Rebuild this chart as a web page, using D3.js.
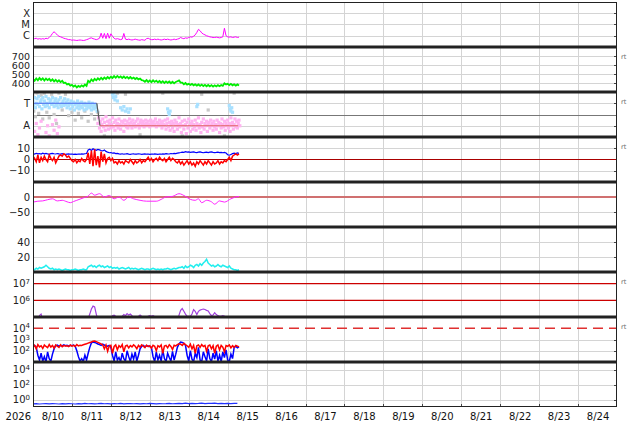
<!DOCTYPE html>
<html><head><meta charset="utf-8">
<script src="https://cdn.jsdelivr.net/npm/d3@7"></script>
<style>body{margin:0;background:#fff}svg{display:block}text{font-family:"DejaVu Sans",sans-serif}</style>
</head><body><svg id="c" width="634" height="424"></svg>
<script>
// ---------- data (hourly from 2026-08-10 00:00 unless noted) ----------
const dayLabels = ["8/10","8/11","8/12","8/13","8/14","8/15","8/16","8/17","8/18","8/19","8/20","8/21","8/22","8/23","8/24"];
// X-ray flux in C-class units (1 = 1e-6 W/m2)
const xray = [0.6,0.55,0.6,0.5,0.55,0.5,0.55,0.5,0.6,0.55,
0.7,1.0,1.6,2.3,1.6,1.2,0.9,0.8,0.7,0.6,
0.55,0.5,0.45,0.45,0.4,0.42,0.4,0.38,0.4,0.42,
0.4,0.38,0.4,0.45,0.5,0.6,0.65,0.55,0.5,0.45,
0.5,0.6,1.7,0.6,1.6,0.55,1.7,0.6,1.5,0.9,
0.6,0.5,0.55,0.5,0.45,0.5,1.6,0.5,0.45,0.5,
0.45,0.42,0.45,0.5,0.45,0.42,0.4,0.45,0.42,0.4,
0.55,0.6,0.5,0.45,0.45,0.5,0.45,0.5,0.45,0.42,
0.45,0.5,0.45,0.5,0.45,0.42,0.45,0.5,0.45,0.5,
0.55,0.7,0.6,0.55,0.65,0.6,0.7,0.8,0.75,0.9,
1.2,2.0,3.7,2.8,1.8,1.4,1.2,1.0,0.9,0.8,
0.75,0.7,0.7,0.75,0.7,0.65,0.7,0.8,4.6,1.0,
0.8,0.75,0.8,0.7,0.75,0.8,0.7,0.75];
const speed = [445,425,450,430,455,435,452,428,450,432,
446,424,440,418,436,414,430,410,424,400,
404,384,390,370,380,360,372,350,368,356,
374,360,382,368,424,410,440,422,446,430,
452,436,458,440,462,446,466,450,470,456,
476,458,478,460,474,456,472,454,468,450,
466,448,460,444,456,440,450,432,428,414,
432,412,428,410,430,412,426,408,422,404,
420,400,418,402,416,398,414,396,412,420,
428,404,404,386,400,382,392,378,390,374,
386,370,384,368,382,366,380,364,378,362,
376,360,374,362,376,364,378,368,396,384,
392,376,390,374,386,370,384,372];
// IMF sector: toward (half-hourly from h0), away (half-hourly from h40), extras [hour,value]
const toward = [1.2,0.8,1.5,0.6,1.0,1.4,0.9,1.6,0.7,1.1,1.3,0.5,1.5,0.9,1.2,0.7,1.6,1.0,0.8,1.4,
0.6,1.1,1.3,0.9,1.5,1.0,0.7,1.2,1.4,0.8,1.1,0.6,1.3,0.9,1.5,0.7,1.0,1.2,0.8,1.4,
0.9,1.1,0.6,1.3,0.8,1.0,0.5,1.2,0.9,0.7,1.1,0.4,0.9,1.0,0.6,1.2,0.8,0.5,1.0,0.7,
1.1,0.6,0.9,0.4,1.0,0.8,0.5,0.9,0.7,1.1,0.6,0.8,0.4,1.0,0.7,0.5,0.9,0.6,0.8,0.3];
const towardExtra = [[49,1.8],[49.5,1.5],[50,1.9],[50.5,1.3],[51,1.6],[52,1.2],[54,0.6],[55,0.4],[56,0.7],[57,0.3],[58,0.5],[59,0.2],[60,0.5],
[83,0.5],[83.5,0.2],[84,0.0],[84.5,0.3],[101,0.7],[101.5,0.9],[121,0.8],[121.5,0.5],[122,0.3],[122.5,0.6],[123,0.2]];
const away = [-0.8,-0.3,-1.2,-0.6,-1.5,-0.9,-0.4,-1.1,-0.7,-1.4,-0.2,-1.0,-0.6,-1.3,-0.8,-0.5,-1.2,-0.9,-0.3,-1.1,
-0.7,-1.4,-0.5,-1.0,-0.8,-1.2,-0.4,-0.9,-1.3,-0.6,-1.0,-0.7,-1.5,-0.5,-0.9,-1.1,-0.6,-1.2,-0.8,-0.4,
-1.0,-0.7,-1.2,-0.5,-0.9,-0.8,-1.1,-0.6,-1.0,-0.4,-0.9,-1.2,-0.7,-0.5,-1.0,-0.8,-0.6,-1.1,-0.9,-0.5,
-0.8,-1.0,-0.6,-0.9,-1.1,-0.5,-0.8,-0.7,-1.0,-0.6,-0.9,-0.4,-1.1,-0.7,-0.8,-1.0,-0.5,-0.9,-0.7,-1.2,
-0.6,-0.9,-1.0,-0.5,-1.3,-0.8,-0.4,-1.1,-0.7,-1.4,-0.9,-0.6,-1.2,-0.8,-1.5,-0.5,-1.0,-0.7,-1.3,-0.9,
-0.3,-1.1,-0.8,-1.6,-0.6,-1.0,-1.3,-0.5,-0.9,-1.7,-0.7,-1.2,-0.4,-1.0,-1.5,-0.8,-0.6,-1.3,-0.9,-1.1,
-0.5,-1.4,-0.8,-1.0,-0.3,-1.2,-0.9,-1.6,-0.7,-1.1,-0.4,-1.3,-0.8,-1.0,-0.6,-1.5,-0.9,-0.7,-1.2,-0.5,
-1.0,-0.8,-1.4,-0.6,-1.1,-0.9,-1.3,-0.5,-1.0,-0.7,-1.6,-0.8,-1.2,-0.4,-0.9,-1.1,-0.6,-1.4,-0.8,-1.0,
-0.5,-1.2,-0.8,-1.5,-0.3,-1.0,-0.7,-1.3,-0.9,-0.4,-1.1,-0.6,-1.2,-0.8,-0.5,-1.0];
const awayEarly = [[1,-1.5],[2,-0.8],[3,-1.8],[4,-1.2],[5,-0.6],[8,-1.6],[9,-1.0],[10,-1.9],[12,-0.9],[13,-1.4],[14,-0.5],[15,-1.7],[16,-1.1]];
const grayPts = [[0,1.8],[0.5,0.3],[1.5,-0.2],[2.5,1.9],[3.5,0.1],[5,1.7],[6,-0.4],[7,1.9],[8.5,0.2],[10,-0.3],[11.5,1.8],[13,0.0],[14.5,-0.8],[16,1.9],[18,0.4],[20,1.8],[22,-0.1],[24,0.2],[26,-0.5],[28,0.1],[30,-0.3],[32,0.3],[34,-0.6],[36,0.0],[38,-0.4],[40,0.2],[44,-1.9],[52,1.9],[57,1.8],[66,-1.8],[80,1.9],[92,-1.9],[104,1.8],[108,0.4],[118,-1.9],[124,1.9]];
const sectorLine = [[0,1],[39.3,1],[41.3,-1],[126.5,-1]];
const bt = [5.2,4.8,5.5,5.0,5.3,4.9,5.6,5.1,5.4,5.0,
4.7,5.2,5.5,5.1,4.9,5.3,5.0,4.8,5.2,4.9,
4.6,4.8,5.0,4.7,4.9,4.5,4.8,4.6,4.9,4.7,
5.0,4.8,5.1,5.3,8.5,9.2,8.0,9.5,8.8,8.2,
9.0,8.6,8.0,7.6,8.4,7.2,6.5,6.0,6.2,5.6,
5.8,5.2,5.5,5.0,4.8,5.1,4.7,4.9,5.2,4.8,
4.6,4.9,5.0,4.7,4.8,5.1,4.9,4.6,4.8,5.0,
4.7,4.9,4.5,4.8,4.7,5.0,4.8,4.6,4.9,4.7,
5.0,4.8,5.2,5.0,4.9,5.3,5.1,5.5,5.3,5.6,
5.9,6.2,6.6,6.4,6.9,6.5,6.7,6.3,6.6,6.8,
6.4,6.2,6.5,6.7,6.3,6.0,6.4,6.6,6.2,6.5,
6.8,6.4,6.1,6.3,6.6,6.2,6.4,6.0,6.3,5.8,
4.2,3.8,4.5,5.2,5.6,5.3,5.8,5.5];
const bz = [3,1,-2,4,-3,2,-1,3,0,-2,
4,1,-1,2,-3,0,3,4,3,5,
4,2,3,1,-1,-2,0,-3,-1,-2,
1,-1,-2,0,6,-4,8,-6,9,-5,
3,-7,7,-2,5,-3,1,2,-1,1,
-3,-2,-4,-1,-3,-2,-4,-1,-2,-3,
0,-2,-4,-1,-3,-2,0,-3,-1,-2,
0,2,-1,1,-2,0,1,-1,2,0,
-1,1,-2,0,2,-1,1,0,-2,-3,
-1,-4,-2,-5,-3,-1,-4,-2,-5,-3,
-6,-2,-4,-1,-3,-5,-2,-4,-1,-3,
-5,-2,-4,-3,-1,-4,-2,-3,-1,-2,
0,2,-1,3,4,5,4,5];
// Dst [hour, nT]
const dst = [[0,-17],[3,-14],[6,-13],[9,-9],[12,-6],[15,-13],[18,-11],[21,-16],[23,-19],[25,-15],[27,-11],[31,-3],[34,3],[36,13],[38,6],[41,11],[44,0],[47,5],[50,-6],[53,0],[56,-11],[59,0],[62,-6],[66,-11],[70,-14],[76,-14],[79,-8],[82,0],[86,2],[90,11],[94,2],[97,-8],[100,-11],[102,-6],[104,-19],[107,-11],[110,-16],[112,-24],[115,-13],[118,-17],[122,-6],[125,0],[127,2]];
const density = [4,3,5,4,6,5,6,7,9,7,
5,4,5,3,4,3,4,3,2,3,
4,3,3,2,3,3,4,3,2,3,
3,4,3,3,7,8,9,7,8,6,
8,9,7,8,6,7,8,6,7,5,
6,5,6,4,5,6,5,4,5,6,
4,5,4,5,4,3,4,5,4,3,
4,4,3,4,5,4,3,4,3,4,
3,4,4,5,4,3,4,5,4,5,
6,6,7,5,8,6,7,9,8,6,
9,10,8,11,9,12,14,17,12,10,
8,9,7,8,10,8,7,9,8,7,
6,8,5,4,3,3,2,3];
const electrons = [5e4,5e4,5e4,5e4,1.2e5,1.5e5,6e4,5e4,5e4,5e4,
5e4,5e4,5e4,5e4,5e4,5e4,5e4,5e4,5e4,5e4,
5e4,5e4,5e4,5e4,5e4,5e4,5e4,5e4,5e4,5e4,
5e4,5e4,5e4,5e4,8e4,1.5e5,3e5,4.5e5,4e5,1.5e5,
7e4,5e4,5e4,5e4,5e4,5e4,5e4,5e4,5e4,1.2e5,
1.3e5,1.1e5,6e4,6e4,6e4,1.1e5,1.4e5,1.2e5,1.6e5,1.3e5,
1.5e5,1.2e5,7e4,7e4,7e4,1.1e5,1.3e5,1.1e5,7e4,7e4,
7e4,1.1e5,1.2e5,1.1e5,1.2e5,1.05e5,5e4,5e4,5e4,5e4,
5e4,5e4,5e4,5e4,5e4,5e4,5e4,5e4,5e4,5e4,
1.3e5,2.5e5,3.2e5,2.2e5,1.5e5,1.1e5,1.1e5,1.1e5,1.5e5,2.8e5,
2.2e5,1.4e5,2.2e5,2.6e5,2.8e5,3e5,2.8e5,2.5e5,2.3e5,1.6e5,
1.2e5,1.3e5,1.8e5,1.4e5,1.2e5,1.1e5,1.1e5,1.2e5,1.1e5,5e4,
5e4,5e4,5e4,5e4,5e4,5e4,5e4,5e4];
const fluxRed = [200,300,150,350,220,280,160,320,240,190,
360,210,300,170,330,250,200,340,230,290,
260,280,230,320,260,300,240,350,270,310,
300,340,380,420,480,540,600,700,740,650,
560,480,400,330,150,320,90,260,300,60,
240,330,120,280,200,350,80,260,310,180,
290,220,330,250,150,300,210,340,260,190,
320,230,280,170,300,250,100,280,220,330,
60,260,300,180,340,240,130,310,270,350,
420,380,300,450,350,280,200,380,150,300,
60,280,330,200,350,240,300,90,270,320,
150,280,60,250,330,120,300,210,80,290,
250,330,180,280,200,300,260,220];
const fluxBlue = [250,300,200,40,15,60,12,30,10,80,
20,12,50,150,280,320,250,300,270,330,
280,310,260,300,280,320,250,100,30,12,
20,11,40,15,60,200,500,600,550,480,
400,350,300,380,320,280,250,300,200,40,
12,80,15,25,11,60,20,12,100,30,
11,50,18,80,12,40,150,250,300,220,
280,260,240,200,30,11,80,15,40,12,
120,20,11,60,25,12,90,15,50,200,
400,600,550,450,300,40,12,100,18,11,
60,25,200,15,11,80,30,12,150,20,
11,60,18,100,12,40,11,80,25,120,
15,11,50,20,200,250,180,220];
// 2-hourly
const bottomFlux = [0.26,0.28,0.25,0.27,0.29,0.26,0.28,0.27,0.25,0.28,0.26,0.29,0.27,0.25,0.28,0.26,
0.30,0.27,0.29,0.26,0.28,0.31,0.27,0.29,0.26,0.28,0.27,0.30,0.26,0.28,0.29,0.27,
0.28,0.26,0.29,0.27,0.30,0.28,0.26,0.29,0.27,0.28,0.31,0.27,0.29,0.30,0.28,0.32,
0.29,0.31,0.28,0.30,0.33,0.29,0.31,0.30,0.32,0.29,0.31,0.28,0.30,0.29,0.31,0.30];

// ---------- layout ----------
const L=33, R=617, TOP=2, PH=45, NP=9;
const t0=new Date(2026,7,10), t1=new Date(2026,7,25);
const x=d3.scaleTime().domain([t0,t1]).range([L,R]);
const at=h=>new Date(+t0+h*36e5);
const svg=d3.select('#c');
const ptop=i=>TOP+PH*i, pbot=i=>TOP+PH*(i+1);
const GRID='#d4d4d4';

const minus=d=>d<0?'\u2212'+(-d):String(d);
const panels=[
 {y:d3.scaleLog().domain([0.1,1000]), ticks:[1,10,100], fmt:d=>({1:'C',10:'M',100:'X'})[d], grid:[1,10,100]},
 {y:d3.scaleLinear().domain([300,800]), ticks:[400,500,600,700], fmt:d=>d, grid:[400,500,600,700], rt:true, fs:9.5},
 {y:d3.scaleLinear().domain([-2,2]), ticks:[1,-1], fmt:d=>d>0?'T':'A', grid:[1,-1], rt:true},
 {y:d3.scaleLinear().domain([-20,20]), ticks:[10,0,-10], fmt:minus, grid:[10,-10], rt:true},
 {y:d3.scaleLinear().domain([-100,50]), ticks:[0,-50], fmt:minus, grid:[-50]},
 {y:d3.scaleLinear().domain([0,60]), ticks:[20,40], fmt:d=>d, grid:[20,40]},
 {y:d3.scaleLog().domain([1e5,Math.pow(10,7.7)]), ticks:[1e6,1e7], sup:true, grid:[], rt:true},
 {y:d3.scaleLog().domain([10,1e5]), ticks:[1e2,1e3,1e4], sup:true, grid:[1e2,1e3], rt:true},
 {y:d3.scaleLog().domain([0.1,1e5]), ticks:[1,1e2,1e4], sup:true, grid:[1,1e2,1e4]}
];
panels.forEach((p,i)=>p.y.range([pbot(i),ptop(i)]));

const defs=svg.append('defs');
panels.forEach((p,i)=>defs.append('clipPath').attr('id','cp'+i).append('rect')
  .attr('x',L).attr('y',ptop(i)).attr('width',R-L).attr('height',PH));

// vertical grid
const dayBounds=d3.range(1,15).map(d=>new Date(2026,7,10+d));
const gGrid=svg.append('g');
gGrid.selectAll('line.v').data(dayBounds).join('line')
  .attr('x1',d=>Math.round(x(d))+0.5).attr('x2',d=>Math.round(x(d))+0.5).attr('y1',TOP).attr('y2',pbot(NP-1))
  .attr('stroke',GRID).attr('stroke-width',1);
// horizontal grid + right ticks
panels.forEach((p,i)=>{
  gGrid.selectAll(null).data(p.grid).join('line')
    .attr('x1',L).attr('x2',R).attr('y1',d=>Math.round(p.y(d))+0.5).attr('y2',d=>Math.round(p.y(d))+0.5)
    .attr('stroke',GRID).attr('stroke-width',1);
  svg.append('g').selectAll(null).data(p.grid).join('line')
    .attr('x1',R-3).attr('x2',R).attr('y1',d=>Math.round(p.y(d))+0.5).attr('y2',d=>Math.round(p.y(d))+0.5)
    .attr('stroke','#444');
});

function layer(i){return svg.append('g').attr('clip-path',`url(#cp${i})`);}
const lineH=(y,step=1)=>d3.line().x((d,k)=>x(at(k*step))).y(d=>y(d));
const lineP=y=>d3.line().x(d=>x(at(d[0]))).y(d=>y(d[1]));

// panel 0: X-ray
layer(0).append('path').datum(xray).attr('d',lineH(panels[0].y)).attr('fill','none').attr('stroke','#ff00ff').attr('stroke-width',1);
// panel 1: speed
layer(1).append('path').datum(speed).attr('d',lineH(panels[1].y)).attr('fill','none').attr('stroke','#00ee00').attr('stroke-width',1.8);
// panel 2: sector
{
 const y=panels[2].y, g=layer(2);
 g.append('line').attr('x1',L).attr('x2',R).attr('y1',Math.round(y(0))+0.5).attr('y2',Math.round(y(0))+0.5).attr('stroke','#777');
 const dot=(sel,data,col)=>sel.selectAll(null).data(data).join('rect')
   .attr('x',d=>x(at(d[0]))-1.6).attr('y',d=>y(d[1])-1.6).attr('width',3.2).attr('height',3.2).attr('fill',col);
 dot(g,grayPts,'#c8c8c8');
 dot(g,toward.map((v,k)=>[k*0.5,v]).concat(towardExtra),'#a8e0ff');
 dot(g,away.map((v,k)=>[40+k*0.5,v]).concat(awayEarly),'#ffb3f0');
 const segCols=['#4466ee','#555555','#e06060'];
 for(let k=0;k<3;k++) g.append('path').datum(sectorLine.slice(k,k+2)).attr('d',lineP(y)).attr('fill','none').attr('stroke',segCols[k]).attr('stroke-width',1.2);
}
// panel 3: Bt / Bz
{
 const y=panels[3].y, g=layer(3);
 g.append('line').attr('x1',L).attr('x2',R).attr('y1',y(0)).attr('y2',y(0)).attr('stroke','#aa0000').attr('stroke-width',1.2);
 g.append('path').datum(bt).attr('d',lineH(y)).attr('fill','none').attr('stroke','#0000ff').attr('stroke-width',1.2);
 g.append('path').datum(bz).attr('d',lineH(y)).attr('fill','none').attr('stroke','#ff0000').attr('stroke-width',1.5);
}
// panel 4: Dst
{
 const y=panels[4].y, g=layer(4);
 g.append('line').attr('x1',L).attr('x2',R).attr('y1',y(0)).attr('y2',y(0)).attr('stroke','#d07070').attr('stroke-width',2);
 g.append('path').datum(dst).attr('d',lineP(y).curve(d3.curveMonotoneX)).attr('fill','none').attr('stroke','#ff22ff').attr('stroke-width',1);
}
// panel 5: density
layer(5).append('path').datum(density).attr('d',lineH(panels[5].y)).attr('fill','none').attr('stroke','#22eeee').attr('stroke-width',1.5);
// panel 6: electrons
{
 const y=panels[6].y, g=layer(6);
 g.selectAll(null).data([1e6,1e7]).join('line').attr('x1',L).attr('x2',R).attr('y1',d=>y(d)).attr('y2',d=>y(d)).attr('stroke','#cc0000').attr('stroke-width',1.2);
 g.append('path').datum(electrons).attr('d',lineH(y)).attr('fill','none').attr('stroke','#a040dd').attr('stroke-width',1.2);
}
// panel 7: fluxes
{
 const y=panels[7].y, g=layer(7);
 g.append('line').attr('x1',L).attr('x2',R).attr('y1',y(1e4)).attr('y2',y(1e4)).attr('stroke','#e03030').attr('stroke-width',1.5).attr('stroke-dasharray','10,6');
 g.append('path').datum(fluxBlue).attr('d',lineH(y)).attr('fill','none').attr('stroke','#0000ff').attr('stroke-width',1.5);
 g.append('path').datum(fluxRed).attr('d',lineH(y)).attr('fill','none').attr('stroke','#ff0000').attr('stroke-width',1.5);
}
// panel 8
layer(8).append('path').datum(bottomFlux).attr('d',lineH(panels[8].y,2)).attr('fill','none').attr('stroke','#2233ff').attr('stroke-width',1.2);

// y axes
panels.forEach((p,i)=>{
  const ax=d3.axisLeft(p.y).tickValues(p.ticks).tickSize(0).tickPadding(3)
    .tickFormat(p.sup?()=>'':p.fmt);
  const g=svg.append('g').attr('transform',`translate(${L},0)`).call(ax);
  g.select('.domain').remove();
  g.selectAll('text').attr('font-size',p.fs||10).attr('fill','#222').attr('font-family','DejaVu Sans');
  if(p.sup){
    g.selectAll('.tick text').each(function(d){
      const t=d3.select(this); t.text('10');
      t.append('tspan').attr('dy','-0.5em').attr('font-size',7).text(Math.round(Math.log10(d)));
    });
  }
  if(p.rt) svg.append('text').attr('x',621).attr('y',ptop(i)+12).attr('font-size',6.5).attr('fill','#666').text('rt');
});

// x axis
const noons=dayLabels.map((s,k)=>new Date(2026,7,10+k,12));
const xa=d3.axisBottom(x).tickValues(noons).tickFormat((d,k)=>dayLabels[k]).tickSize(0).tickPadding(6);
const gx=svg.append('g').attr('transform',`translate(0,${pbot(NP-1)})`).call(xa);
gx.select('.domain').remove();
gx.selectAll('text').attr('font-size',10).attr('fill','#111').attr('font-family','DejaVu Sans');
svg.append('text').attr('x',31).attr('y',420).attr('text-anchor','end').attr('font-size',10).attr('fill','#111').text('2026');
// day ticks at bottom
svg.append('g').selectAll(null).data(dayBounds).join('line').attr('x1',d=>Math.round(x(d))+0.5).attr('x2',d=>Math.round(x(d))+0.5).attr('y1',pbot(NP-1)-3).attr('y2',pbot(NP-1)).attr('stroke','#444');

// frame and separators
svg.append('rect').attr('x',L+0.5).attr('y',TOP+0.5).attr('width',R-L-1).attr('height',PH*NP-1).attr('fill','none').attr('stroke','#222').attr('stroke-width',1);
svg.append('g').selectAll(null).data(d3.range(1,NP)).join('line')
  .attr('x1',L).attr('x2',R).attr('y1',d=>ptop(d)).attr('y2',d=>ptop(d)).attr('stroke','#222').attr('stroke-width',3);
</script></body></html>
